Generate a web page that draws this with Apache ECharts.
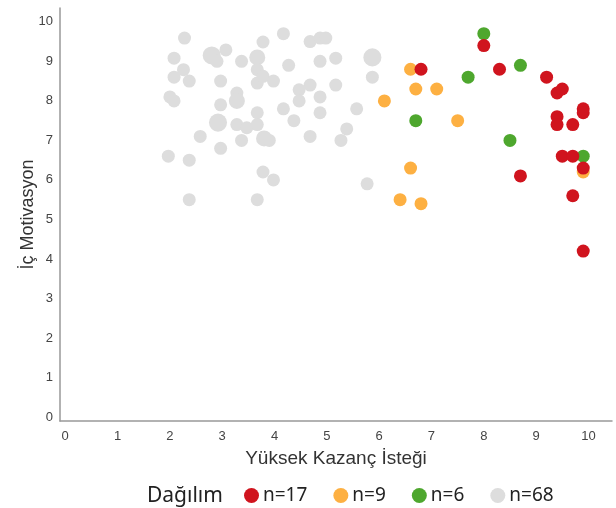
<!DOCTYPE html>
<html>
<head>
<meta charset="utf-8">
<script src="https://cdn.jsdelivr.net/npm/echarts@6/dist/echarts.min.js"></script>
<style>html,body{margin:0;padding:0;background:#fff;}#c{width:616px;height:508px;}</style>
</head>
<body>
<div id="c"></div>
<script>
// Data
const tickValues = [0,1,2,3,4,5,6,7,8,9,10];
const xTitle = 'Yüksek Kazanç İsteği';
const yTitle = 'İç Motivasyon';
const legendTitle = 'Dağılım';
const seriesNames = ['n=17','n=9','n=6','n=68'];

const redX = [6.8,8.0,8.3,9.2,9.4,9.5,9.4,9.4,9.7,9.9,9.9,9.5,9.7,9.9,8.7,9.7,9.9];
const redY = [8.8,9.4,8.8,8.6,8.2,8.3,7.6,7.4,7.4,7.8,7.7,6.6,6.6,6.3,6.1,5.6,4.2];

const orangeX = [6.6,6.7,7.1,6.1,7.5,6.6,6.4,6.8,9.9];
const orangeY = [8.8,8.3,8.3,8.0,7.5,6.3,5.5,5.4,6.2];

const greenX = [8.0,7.7,6.7,8.7,8.5,9.9];
const greenY = [9.7,8.6,7.5,8.9,7.0,6.6];

const grayX = [2.28,4.17,4.68,4.87,4.98,3.78,2.08,2.8,2.8,2.8,2.9,3.07,3.37,3.67,3.67,3.67,3.67,3.78,3.98,4.27,4.87,5.17,
  5.87,5.87,5.87,5.87,2.26,2.08,2.37,2.97,5.17,4.68,4.47,2.0,2.08,3.28,3.28,2.97,4.47,4.87,4.87,4.17,4.37,5.57,3.67,
  2.92,2.92,2.92,3.28,3.47,3.67,2.58,3.37,3.8,3.8,3.9,4.68,5.38,5.27,2.97,1.97,2.37,3.78,3.98,5.77,2.37,3.67,3.28];
const grayY = [9.59,9.7,9.5,9.59,9.59,9.49,9.08,9.15,9.15,9.15,9.0,9.29,9.0,9.1,9.1,8.79,8.45,8.62,8.5,8.9,9.0,9.08,
  9.1,9.1,9.1,8.6,8.79,8.6,8.5,8.5,8.4,8.4,8.28,8.1,8.0,8.2,8.0,7.9,8.0,8.1,7.7,7.8,7.5,7.8,7.7,
  7.45,7.45,7.45,7.4,7.32,7.4,7.1,7.0,7.05,7.05,7.0,7.1,7.29,7.0,6.8,6.6,6.5,6.2,6.0,5.9,5.5,5.5,8.0];

const colors = ['#d0141e','#fdb042','#4ea72e','#dddddd'];

function pairs(xs, ys){ return xs.map((x,i)=>[x, ys[i]]); }
// merge coincident points; circle grows with the number of points it holds
function grouped(xs, ys){
  const m = new Map();
  xs.forEach((x,i)=>{ const k = x+'|'+ys[i]; m.set(k, (m.get(k)||0)+1); });
  return Array.from(m.entries()).map(([k,c])=>{ const p=k.split('|').map(Number); return [p[0],p[1],c]; });
}

const chart = echarts.init(document.getElementById('c'), null, {renderer:'canvas'});
const axisFont = {fontFamily:'Liberation Sans, Arial, sans-serif', fontSize:13, color:'#444'};
const nameFontX = {fontFamily:'Liberation Sans, Arial, sans-serif', fontSize:19, color:'#333'};
const nameFontY = {fontFamily:'Liberation Sans, Arial, sans-serif', fontSize:18, color:'#333'};

const option = {
  animation:false,
  grid:{left:60, right:4, top:8, bottom:87, containLabel:false},
  title:{text:legendTitle, left:142, top:481, textStyle:{fontFamily:'Noto Sans', fontSize:21, fontWeight:'normal', color:'#222'}},
  legend:{
    data:seriesNames, left:239, top:481, icon:'circle', itemWidth:15, itemHeight:15, itemGap:26,
    textStyle:{fontFamily:'Noto Sans', fontSize:19, color:'#222', padding:[0,0,0,-1]}
  },
  xAxis:{
    type:'value', min:-0.1, max:10.45,
    name:xTitle, nameLocation:'middle', nameGap:28, nameMoveOverlap:false, nameTextStyle:nameFontX,
    axisLine:{show:true, onZero:false, lineStyle:{color:'#999', width:1.5}},
    axisTick:{show:false},
    splitLine:{show:false},
    axisLabel:Object.assign({customValues:tickValues, margin:9}, axisFont)
  },
  yAxis:{
    type:'value', min:-0.1, max:10.35,
    name:yTitle, nameLocation:'middle', nameGap:23, nameMoveOverlap:false, nameTextStyle:nameFontY,
    axisLine:{show:true, onZero:false, lineStyle:{color:'#999', width:1.5}},
    axisTick:{show:false},
    splitLine:{show:false},
    axisLabel:Object.assign({customValues:tickValues, margin:7}, axisFont)
  },
  series:[
    {name:seriesNames[3], type:'scatter', data:grouped(grayX, grayY), symbolSize:d=>13*Math.pow(d[2],0.3), itemStyle:{color:colors[3], opacity:1}, z:1},
    {name:seriesNames[1], type:'scatter', data:pairs(orangeX, orangeY), symbolSize:13, itemStyle:{color:colors[1], opacity:1}, z:2},
    {name:seriesNames[2], type:'scatter', data:pairs(greenX, greenY), symbolSize:13, itemStyle:{color:colors[2], opacity:1}, z:3},
    {name:seriesNames[0], type:'scatter', data:pairs(redX, redY), symbolSize:13, itemStyle:{color:colors[0], opacity:1}, z:4}
  ]
};
chart.setOption(option);
</script>
</body>
</html>
